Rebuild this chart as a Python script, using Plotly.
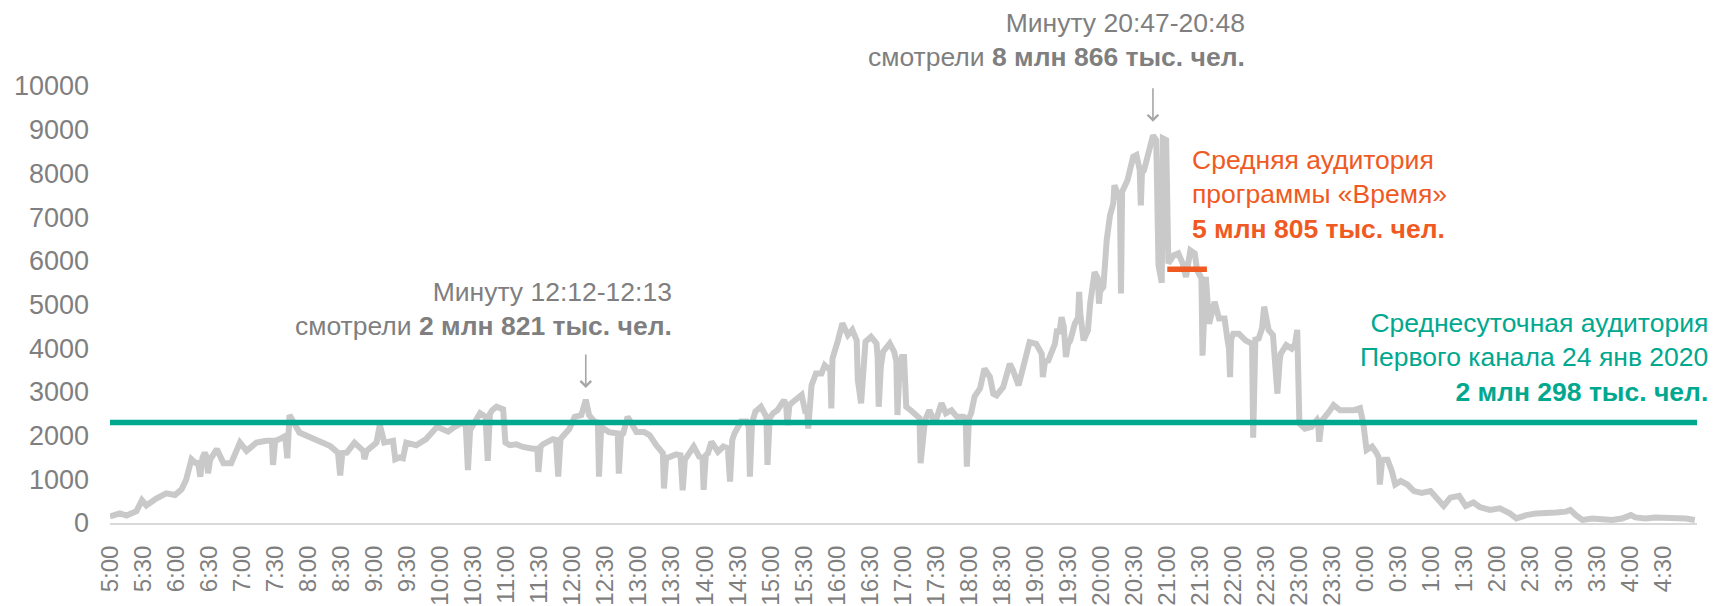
import plotly.graph_objects as go

# Minute-by-minute audience of Channel One, 24 Jan 2020 (thousands of viewers).
# minutes: offset from 5:00; audience: thousands of people
minutes = [
    0, 9, 15, 24, 29, 33, 42, 51, 59, 65,
    69, 74, 78, 80, 82, 84, 86, 88, 89, 91,
    97, 103, 110, 118, 124, 133, 142, 147, 148, 150,
    154, 159, 161, 162, 163, 172, 182, 191, 200, 207,
    209, 211, 215, 222, 230, 231, 233, 242, 245, 249,
    257, 259, 263, 266, 269, 278, 287, 297, 307, 313,
    319, 323, 325, 327, 336, 341, 343, 345, 347, 351,
    354, 357, 359, 363, 369, 375, 384, 388, 389, 391,
    393, 402, 405, 407, 409, 410, 417, 422, 428, 432,
    435, 440, 443, 444, 446, 448, 453, 461, 462, 464,
    466, 470, 478, 485, 490, 496, 502, 503, 505, 507,
    514, 518, 520, 522, 530, 535, 538, 539, 541, 543,
    546, 552, 557, 561, 563, 565, 567, 573, 578, 580,
    581, 583, 586, 591, 596, 597, 599, 602, 606, 612,
    614, 615, 617, 620, 628, 631, 633, 634, 636, 637,
    641, 646, 649, 652, 654, 655, 656, 661, 665, 670,
    674, 678, 679, 682, 684, 686, 691, 696, 697, 698,
    700, 702, 708, 712, 714, 715, 717, 719, 721, 723,
    727, 733, 735, 736, 738, 740, 744, 749, 755, 759,
    764, 769, 775, 777, 778, 780, 782, 785, 790, 794,
    799, 802, 805, 811, 817, 820, 825, 831, 835, 841,
    846, 847, 849, 852, 858, 860, 862, 864, 866, 868,
    870, 872, 876, 879, 880, 881, 882, 884, 888, 890,
    894, 897, 898, 899, 902, 905, 908, 911, 912, 915,
    917, 918, 919, 924, 929, 932, 935, 936, 937, 939,
    944, 947, 950, 952, 955, 956, 959, 961, 966, 970,
    974, 977, 981, 985, 987, 990, 991, 992, 994, 995,
    998, 1003, 1007, 1012, 1015, 1016, 1017, 1018, 1020, 1025,
    1031, 1036, 1037, 1038, 1040, 1043, 1046, 1048, 1052, 1056,
    1059, 1060, 1062, 1063, 1068, 1073, 1076, 1078, 1080, 1085,
    1091, 1096, 1097, 1098, 1100, 1101, 1107, 1111, 1117, 1123,
    1129, 1135, 1138, 1141, 1146, 1150, 1152, 1153, 1155, 1157,
    1160, 1164, 1167, 1172, 1178, 1184, 1191, 1199, 1205, 1211,
    1217, 1225, 1231, 1238, 1244, 1253, 1262, 1271, 1277, 1286,
    1295, 1304, 1313, 1322, 1326, 1331, 1337, 1346, 1355, 1364,
    1373, 1381, 1385, 1394, 1403, 1412, 1422, 1431, 1439,
]
audience = [
    150, 220, 170, 270, 520, 400, 560, 680, 640, 770,
    980, 1460, 1370, 1380, 1060, 1500, 1610, 1500, 1140, 1450,
    1690, 1370, 1370, 1840, 1650, 1840, 1880, 1880, 1330, 1880,
    1920, 1990, 1480, 2000, 2470, 2070, 1950, 1840, 1760, 1610,
    1090, 1600, 1610, 1840, 1650, 1460, 1650, 1840, 2250, 1840,
    1880, 1460, 1500, 1480, 1840, 1780, 1920, 2200, 2090, 2200,
    2280, 2250, 1210, 2130, 2510, 2430, 1420, 2500, 2580, 2660,
    2620, 2600, 1840, 1780, 1800, 1740, 1700, 1700, 1170, 1750,
    1800, 1920, 1900, 1060, 1900, 1950, 2150, 2430, 2470, 2821,
    2470, 2320, 2300, 1060, 2200, 2160, 2080, 2050, 1130, 2000,
    2050, 2430, 2080, 2080, 2010, 1780, 1600, 790, 1500, 1500,
    1570, 1550, 750, 1450, 1750, 1520, 1500, 760, 1550, 1600,
    1860, 1630, 1750, 1710, 950, 1900, 2050, 2320, 2320, 2200,
    1060, 2300, 2550, 2660, 2430, 1330, 2400, 2510, 2580, 2810,
    2700, 2240, 2700, 2770, 2930, 2580, 2600, 2160, 3000, 3150,
    3420, 3420, 3610, 3530, 3500, 2620, 3760, 4180, 4570, 4300,
    4420, 4180, 3270, 2740, 3800, 4150, 4260, 4110, 3800, 2660,
    3600, 3920, 4110, 3920, 3700, 2470, 3600, 3800, 3800, 2660,
    2580, 2430, 2400, 1370, 2100, 2350, 2580, 2280, 2740, 2510,
    2580, 2430, 2430, 2400, 1290, 2400, 2520, 2890, 3080, 3530,
    3340, 2960, 2920, 3110, 3640, 3490, 3150, 3720, 4140, 4100,
    3870, 3340, 3700, 3720, 4100, 4440, 4330, 4710, 4500, 3800,
    4100, 4180, 4560, 4700, 5290, 4800, 4560, 4180, 4410, 5020,
    5740, 5600, 5020, 5300, 5400, 6470, 7040, 7310, 7730, 7500,
    7400, 5250, 7580, 7850, 8380, 8420, 8080, 7270, 8000, 8080,
    8500, 8866, 8760, 5900, 5500, 8800, 8760, 5940, 6130, 6170,
    5940, 5630, 6240, 6170, 5790, 5630, 5600, 3830, 5600, 5630,
    4560, 5060, 4680, 4680, 4140, 4000, 3340, 4200, 4330, 4330,
    4180, 4100, 4100, 1950, 4200, 4220, 4450, 4950, 4420, 4300,
    3530, 2960, 3700, 3870, 4070, 3990, 4100, 4420, 2280, 2160,
    2200, 2360, 2300, 1860, 2300, 2360, 2550, 2700, 2580, 2580,
    2580, 2630, 2280, 1670, 1750, 1600, 1500, 880, 1400, 1450,
    1450, 1180, 880, 960, 880, 730, 690, 730, 540, 390,
    580, 620, 390, 470, 360, 300, 335, 220, 104, 180,
    220, 220, 240, 260, 300, 180, 70, 104, 85, 70,
    104, 180, 128, 104, 128, 128, 104, 104, 70,
]

# Tick positions every half hour and their labels
tick_minutes = list(range(0, 1440, 30))
tick_labels = [
    "5:00", "5:30", "6:00", "6:30", "7:00", "7:30", "8:00", "8:30",
    "9:00", "9:30", "10:00", "10:30", "11:00", "11:30", "12:00", "12:30",
    "13:00", "13:30", "14:00", "14:30", "15:00", "15:30", "16:00", "16:30",
    "17:00", "17:30", "18:00", "18:30", "19:00", "19:30", "20:00", "20:30",
    "21:00", "21:30", "22:00", "22:30", "23:00", "23:30", "0:00", "0:30",
    "1:00", "1:30", "2:00", "2:30", "3:00", "3:30", "4:00", "4:30",
]

# Reference levels
daily_average = 2298          # average daily audience
vremya_average = 5805         # average audience of «Время»
vremya_span = [960, 996]      # 21:00 – 21:36
peak_noon = (432, 2821)       # 12:12
peak_evening = (947, 8866)    # 20:47

GRAY_LINE = "#C9C9C9"
GRAY_TEXT = "#7F7F7F"
TEAL = "#00A88F"
ORANGE = "#F05A22"
FONT = "Liberation Sans, Arial, sans-serif"
NOTE_SIZE = 26.5

fig = go.Figure()

fig.add_trace(go.Scatter(
    x=minutes, y=audience, mode="lines",
    line=dict(color=GRAY_LINE, width=6),
    hoverinfo="skip",
))

fig.add_trace(go.Scatter(
    x=[0, 1441], y=[daily_average, daily_average], mode="lines",
    line=dict(color=TEAL, width=5.5),
    hoverinfo="skip",
))

fig.add_trace(go.Scatter(
    x=vremya_span, y=[vremya_average, vremya_average], mode="lines",
    line=dict(color=ORANGE, width=5.5),
    hoverinfo="skip",
))

# Text blocks, positioned in paper coordinates of the plot area
annotations = [
    dict(x=0.3554, y=0.4908, xanchor="right", yanchor="middle", align="right",
         text="Минуту 12:12-12:13<br>смотрели <b>2 млн 821 тыс. чел.</b>",
         font=dict(size=NOTE_SIZE, color=GRAY_TEXT)),
    dict(x=0.7164, y=1.1053, xanchor="right", yanchor="middle", align="right",
         text="Минуту 20:47-20:48<br>смотрели <b>8 млн 866 тыс. чел.</b>",
         font=dict(size=NOTE_SIZE, color=GRAY_TEXT)),
    dict(x=0.6805, y=0.7506, xanchor="left", yanchor="middle", align="left",
         text="Средняя аудитория<br>программы «Время»<br><b>5 млн 805 тыс. чел.</b>",
         font=dict(size=NOTE_SIZE, color=ORANGE)),
    dict(x=1.0081, y=0.3776, xanchor="right", yanchor="middle", align="right",
         text="Среднесуточная аудитория<br>Первого канала 24 янв 2020<br><b>2 млн 298 тыс. чел.</b>",
         font=dict(size=NOTE_SIZE, color=TEAL)),
]
for a in annotations:
    a.update(xref="paper", yref="paper", showarrow=False)

# Arrows pointing to the two peak minutes
for (px, pv), gap in ((peak_noon, 6), (peak_evening, 7)):
    annotations.append(dict(
        x=px, y=pv + gap * 45, xref="x", yref="y", text="",
        showarrow=True, ax=0, ay=-35, arrowhead=4, arrowsize=1.3,
        arrowwidth=1.6, arrowcolor="#A6A6A6",
    ))

fig.update_layout(
    width=1718, height=606,
    margin=dict(l=110, r=21, t=86, b=83),
    paper_bgcolor="white", plot_bgcolor="white",
    showlegend=False,
    font=dict(family=FONT, color=GRAY_TEXT),
    annotations=annotations,
    xaxis=dict(
        range=[0, 1441], tickmode="array", tickvals=tick_minutes, ticktext=tick_labels,
        tickangle=-90, tickfont=dict(size=24, color=GRAY_TEXT, family=FONT),
        showgrid=False, zeroline=False, showline=True, linecolor="#D9D9D9", linewidth=2,
        ticks="", ticklabelstandoff=11, automargin=False,
    ),
    yaxis=dict(
        range=[0, 10000], dtick=1000, tick0=0, tickformat="d",
        tickfont=dict(size=27, color=GRAY_TEXT, family=FONT),
        showgrid=False, zeroline=False, showline=False,
        ticks="", ticklabelstandoff=20, automargin=False,
    ),
)

fig.write_html("out.html")
